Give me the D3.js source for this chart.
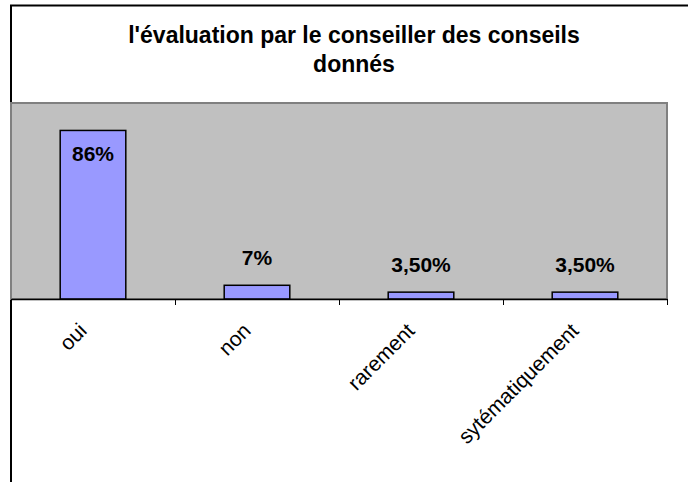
<!DOCTYPE html>
<html>
<head>
<meta charset="utf-8">
<script src="https://cdn.jsdelivr.net/npm/d3@7"></script>
<style>
  body { margin: 0; background: #fff; }
  text { font-family: "Liberation Sans", Arial, sans-serif; }
</style>
</head>
<body>
<script>
var categories = ["oui", "non", "rarement", "sytématiquement"];
var values = [0.86, 0.07, 0.035, 0.035];
var valueLabels = ["86%", "7%", "3,50%", "3,50%"];
var titleLines = ["l'évaluation par le conseiller des conseils", "donnés"];

var W = 688, H = 482;
var plot = {left: 11, right: 667, top: 103, bottom: 299};

var svg = d3.select("body").append("svg")
    .attr("width", W)
    .attr("height", H);

// outer chart frame (cropped on right / bottom)
svg.append("path")
    .attr("d", "M11," + (H + 2) + "V5.5H" + (W + 2))
    .attr("fill", "none")
    .attr("stroke", "#000")
    .attr("stroke-width", 2);

// title
svg.append("text")
    .attr("x", 354)
    .attr("y", 43)
    .attr("text-anchor", "middle")
    .style("font-size", "23px")
    .style("font-weight", "bold")
  .selectAll("tspan")
    .data(titleLines)
  .enter().append("tspan")
    .attr("x", 354)
    .attr("dy", function(d, i) { return i ? 29 : 0; })
    .text(function(d) { return d; });

var x = d3.scaleBand()
    .domain(categories)
    .range([plot.left, plot.right])
    .paddingInner(0.6)
    .paddingOuter(0.3);

var xEdges = d3.scaleLinear()
    .domain([0, categories.length])
    .range([plot.left, plot.right]);

var y = d3.scaleLinear()
    .domain([0, 1])
    .range([plot.bottom, plot.top]);

// plot area
svg.append("rect")
    .attr("x", plot.left)
    .attr("y", plot.top)
    .attr("width", plot.right - plot.left)
    .attr("height", plot.bottom - plot.top)
    .attr("fill", "#c0c0c0")
    .attr("stroke", "#808080")
    .attr("stroke-width", 2);

// bars
svg.selectAll(".bar")
    .data(values)
  .enter().append("rect")
    .attr("class", "bar")
    .attr("x", function(d, i) { return x(categories[i]); })
    .attr("width", x.bandwidth())
    .attr("y", function(d) { return y(d); })
    .attr("height", function(d) { return plot.bottom - y(d); })
    .attr("fill", "#9999ff")
    .attr("stroke", "#000")
    .attr("stroke-width", 1.5);

// value labels
svg.selectAll(".vlabel")
    .data(values)
  .enter().append("text")
    .attr("class", "vlabel")
    .attr("x", function(d, i) { return x(categories[i]) + x.bandwidth() / 2; })
    .attr("y", function(d) { return d > 0.5 ? y(d) + 31 : y(d) - 20; })
    .attr("text-anchor", "middle")
    .style("font-size", "21px")
    .style("font-weight", "bold")
    .text(function(d, i) { return valueLabels[i]; });

// x axis: ticks at category boundaries
var edgeAxis = d3.axisBottom(xEdges)
    .tickValues(d3.range(categories.length + 1))
    .tickSize(6)
    .tickSizeOuter(0)
    .tickFormat("");

var gx = svg.append("g")
    .attr("transform", "translate(0," + plot.bottom + ")")
    .call(edgeAxis);
gx.select(".domain").attr("stroke", "#000").attr("stroke-width", 1.5);
gx.selectAll(".tick line").attr("stroke", "#000");

// category labels
var labelAxis = d3.axisBottom(x).tickSize(0);
var gl = svg.append("g")
    .attr("transform", "translate(0," + plot.bottom + ")")
    .call(labelAxis);
gl.select(".domain").remove();
gl.selectAll(".tick text")
    .attr("y", 0)
    .attr("dy", 0)
    .attr("fill", "#000")
    .style("font-size", "21px")
    .style("font-family", "'Liberation Sans', Arial, sans-serif")
    .style("text-anchor", "end")
    .attr("transform", "translate(-5,33) rotate(-45)");
</script>
</body>
</html>
